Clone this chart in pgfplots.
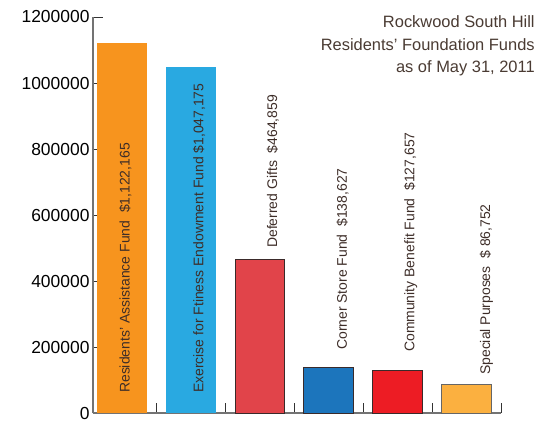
\documentclass[border=0pt]{standalone}
\usepackage{fontspec}
\setmainfont{Liberation Sans}
\usepackage{pgfplots}
\pgfplotsset{compat=1.18}

\definecolor{cOrange}{HTML}{F7941E}
\definecolor{cSky}{HTML}{29A9E1}
\definecolor{cCoral}{HTML}{E1444A}
\definecolor{cBlue}{HTML}{1C75BC}
\definecolor{cRed}{HTML}{ED1C24}
\definecolor{cGold}{HTML}{FBB040}
\definecolor{cEdge}{HTML}{3A2A2A}
\definecolor{cText}{HTML}{3D2D28}
\definecolor{cTitle}{HTML}{4A3B33}

\begin{document}
\begin{tikzpicture}
\begin{axis}[
    at={(0,0)}, anchor=south west,
    scale only axis,
    width=408bp, height=396bp,
    xmin=-0.42, xmax=5.5,
    ymin=0, ymax=1200000,
    axis lines*=left,
    tick align=inside,
    major tick length=10bp,
    tick style={draw=black!80, line width=0.9pt},
    axis line style={draw=black!55, line width=1.3pt},
    xtick={0.5,1.5,2.5,3.5,4.5,5.5},
    xticklabels={},
    ytick={0,200000,400000,600000,800000,1000000,1200000},
    scaled y ticks=false,
    yticklabel style={
        /pgf/number format/fixed,
        /pgf/number format/1000 sep={},
        /pgf/number format/assume math mode=true,
        font=\fontsize{17.5}{17.5}\selectfont, text=black},
    clip=false,
]
    % one plot per bar, each in its own colour
    \addplot[ybar, bar width=0.72, fill=cOrange, draw=none] coordinates {(0,1122165)};
    \addplot[ybar, bar width=0.72, fill=cSky, draw=none] coordinates {(1,1047175)};
    \addplot[ybar, bar width=0.72, fill=cCoral, draw=cEdge, line width=0.8pt] coordinates {(2,464859)};
    \addplot[ybar, bar width=0.72, fill=cBlue, draw=cEdge, line width=0.8pt] coordinates {(3,138627)};
    \addplot[ybar, bar width=0.72, fill=cRed, draw=cEdge, line width=0.8pt] coordinates {(4,127657)};
    \addplot[ybar, bar width=0.72, fill=cGold, draw=black!60, line width=0.8pt] coordinates {(5,86752)};

    \begin{scope}[every node/.style={rotate=90, anchor=west, inner sep=0pt,
        font=\fontsize{14}{14}\selectfont, text=cText}]
    \node at (axis cs:0.05,60600) {Residents’ Assistance Fund\ \ \$1,122,165};
    \node at (axis cs:1.12,60600) {Exercise for Ftiness Endowment Fund \$1,047,175};
    \node at (axis cs:2.19,500000) {Deferred Gifts\ \ \$464,859};
    \node at (axis cs:3.20,190900) {Corner Store Fund\ \ \$138,627};
    \node at (axis cs:4.19,184800) {Community Benefit Fund\ \ \$127,657};
    \node at (axis cs:5.29,115150) {Special Purposes\ \ \$ 86,752};
    \end{scope}

    \node[anchor=north east, inner sep=0pt, align=right, text=cTitle,
        font=\fontsize{16.5}{23}\selectfont]
        at (rel axis cs:1.083,1.005)
        {Rockwood South Hill\\Residents’ Foundation Funds\\as of May 31, 2011};
\end{axis}
\pgfresetboundingbox
\path (-93bp,-9.5bp) rectangle (460bp,413bp);
\end{tikzpicture}
\end{document}
